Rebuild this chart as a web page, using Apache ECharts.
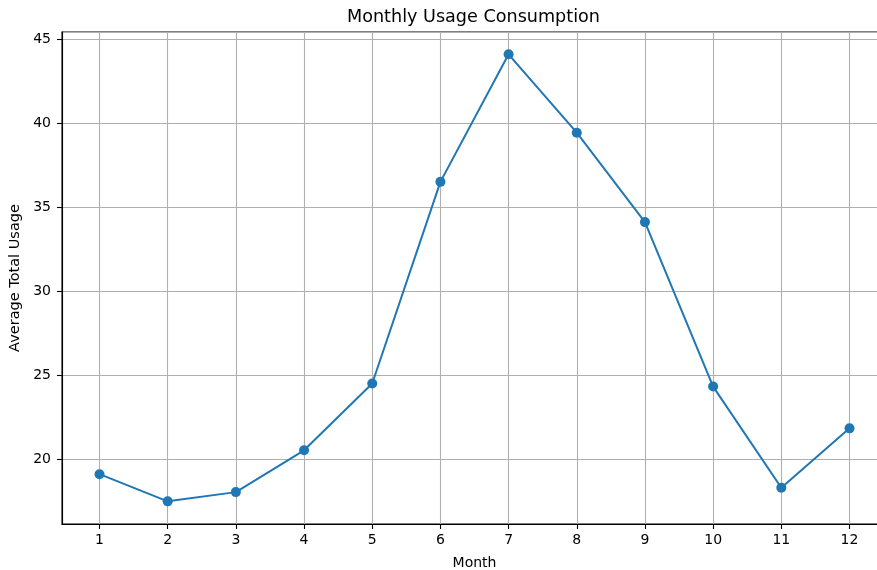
<!DOCTYPE html>
<html>
<head>
<meta charset="utf-8">
<script src="https://cdn.jsdelivr.net/npm/echarts@6/dist/echarts.min.js"></script>
<style>html,body{margin:0;padding:0;background:#fff}#c{width:877px;height:570px}</style>
</head>
<body>
<div id="c"></div>
<script>
const months = [1, 2, 3, 4, 5, 6, 7, 8, 9, 10, 11, 12];
const avgUsage = [19.10, 17.48, 18.03, 20.52, 24.50, 36.52, 44.12, 39.45, 34.12, 24.32, 18.29, 21.83];
const titleText = 'Monthly Usage Consumption';
const xName = 'Month';
const yName = 'Average Total Usage';

const font = 'DejaVu Sans';
const chart = echarts.init(document.getElementById('c'), null, {renderer: 'canvas'});
chart.setOption({
  animation: false,
  backgroundColor: '#fff',
  title: {
    text: titleText, left: 347, top: 8, padding: 0,
    textStyle: {fontFamily: font, fontSize: 17.6, fontWeight: 'normal', color: '#000'}
  },
  grid: {left: 62, top: 32, width: 825, height: 492, outerBoundsMode: 'none', containLabel: false,
    show: true, borderColor: '#000', borderWidth: 1.1, backgroundColor: 'transparent'},
  xAxis: {
    type: 'value', min: 0.45, max: 12.55, minInterval: 1, maxInterval: 1, splitNumber: 12,
    name: xName, nameLocation: 'middle', nameGap: 32,
    nameTextStyle: {fontFamily: font, fontSize: 14, color: '#000'},
    axisLine: {show: true, onZero: false, lineStyle: {color: '#000', width: 1.1}},
    axisTick: {show: true, length: 5, lineStyle: {color: '#000', width: 1.1}},
    axisLabel: {showMinLabel: false, showMaxLabel: false, margin: 9, fontFamily: font, fontSize: 14, color: '#000'},
    splitLine: {show: true, lineStyle: {color: '#b0b0b0', width: 1.1}}
  },
  yAxis: {
    type: 'value', min: 16.13, max: 45.45, minInterval: 5, maxInterval: 5, splitNumber: 5,
    name: yName, nameLocation: 'middle', nameGap: 34,
    nameTextStyle: {fontFamily: font, fontSize: 14.5, color: '#000'},
    axisLine: {show: true, lineStyle: {color: '#000', width: 1.1}},
    axisTick: {show: true, length: 5, lineStyle: {color: '#000', width: 1.1}},
    axisLabel: {showMinLabel: false, showMaxLabel: false, margin: 11, fontFamily: font, fontSize: 14, color: '#000'},
    splitLine: {show: true, lineStyle: {color: '#b0b0b0', width: 1.1}}
  },
  series: [{
    type: 'line',
    data: months.map((m, i) => [m, avgUsage[i]]),
    symbol: 'circle', symbolSize: 10,
    itemStyle: {color: '#1f77b4'},
    lineStyle: {color: '#1f77b4', width: 2}
  }]
});
</script>
</body>
</html>
